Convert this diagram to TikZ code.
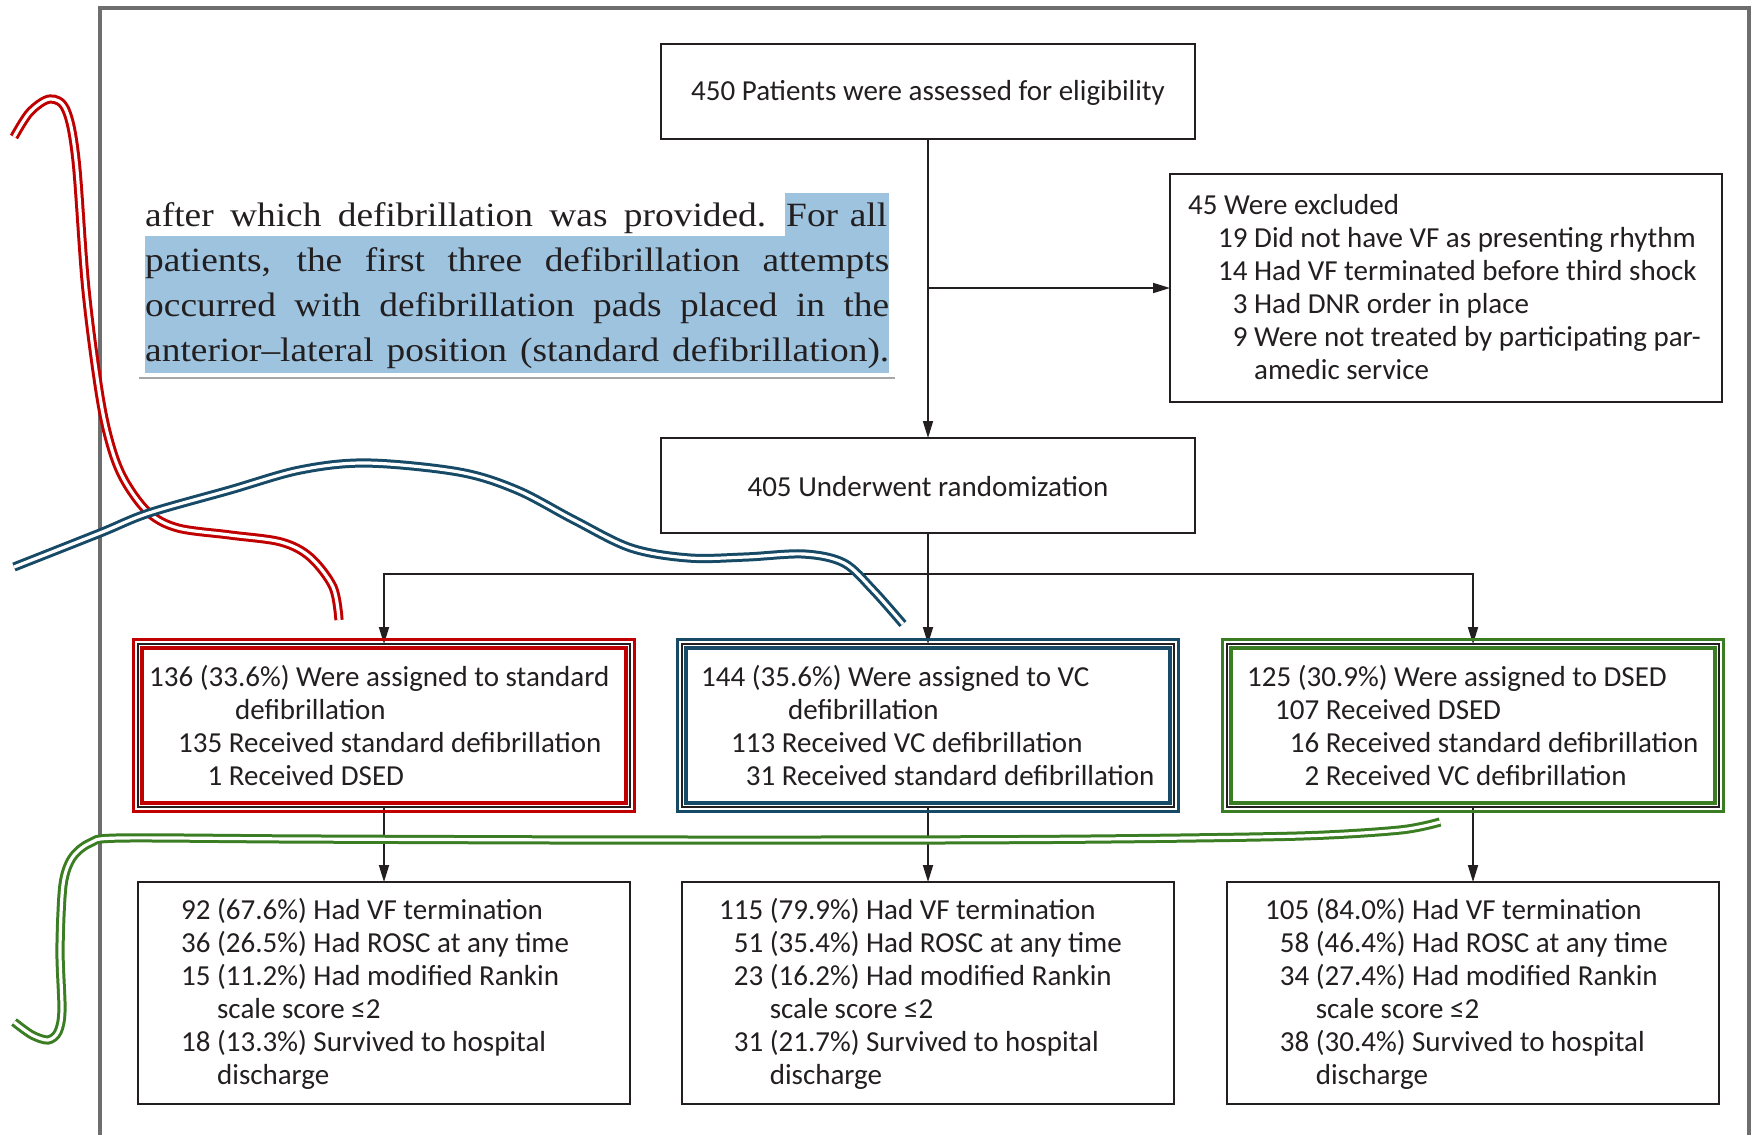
\documentclass[tikz,border=0pt]{standalone}
\usepackage{fontspec}
\setmainfont{Carlito}
\newfontfamily\paperfont[FakeStretch=1.1]{Liberation Serif}
\usetikzlibrary{arrows.meta}
\definecolor{ink}{HTML}{231F20}
\definecolor{redc}{HTML}{C00000}
\definecolor{bluec}{HTML}{164A66}
\definecolor{greenc}{HTML}{3A7D22}
\definecolor{hl}{HTML}{9DC3DF}
\definecolor{framec}{HTML}{6E6E6E}
\tikzset{
  box/.style={draw=ink, line width=2pt, outer sep=0pt, inner sep=0pt, rectangle},
  txt/.style={anchor=west, inner sep=0pt, text=ink, font=\fontsize{29}{33}\selectfont},
  ctxt/.style={inner sep=0pt, text=ink, font=\fontsize{29}{33}\selectfont},
  ptxt/.style={anchor=base west, inner sep=0pt, text=ink, font=\paperfont\fontsize{34}{45}\selectfont},
  conn/.style={draw=ink, line width=1.8pt, -{Triangle[length=17pt,width=10pt]}},
  outerframe/.style={line width=3pt},
  innerframe/.style={line width=4.5pt},
  curve/.style={double=white, line width=3pt, double distance=3.2pt},
}
\begin{document}
\begin{tikzpicture}[x=1pt,y=-1pt]
\fill[white] (0,0) rectangle (1760,1135);
\useasboundingbox (0,0) rectangle (1760,1135);

% outer gray frame
\draw[framec, line width=3.5pt] (100,1135) -- (100,8) -- (1749,8) -- (1749,1135);

% quoted paper text
\fill[hl] (785,193) rectangle (889,236);
\fill[hl] (145,236) rectangle (889,373);
\draw[gray!70, line width=1.5pt] (139,378) -- (895,378);
\node[ptxt] (p1a) at (145,226) {\makebox[621pt][s]{after which defibrillation was provided.}};
\node[ptxt] (p1b) at (786,226) {\makebox[101pt][s]{For all}};
\node[ptxt] (p2) at (145,271) {\makebox[744pt][s]{patients, the first three defibrillation attempts}};
\node[ptxt] (p3) at (145,316) {\makebox[744pt][s]{occurred with defibrillation pads placed in the}};
\node[ptxt] (p4) at (145,361) {\makebox[744pt][s]{anterior–lateral position (standard defibrillation).}};

% boxes
\node[box, minimum width=534pt, minimum height=95pt] (top) at (928,91.5) {};
\node[ctxt] (toptxt) at (928,92.5) {450 Patients were assessed for eligibility};

\node[box, minimum width=552pt, minimum height=228pt] (excl) at (1446,288) {};
\node[txt] (excltxt) at (1188,290.5) {\begin{tabular}{@{}r@{\ }l@{}}
\multicolumn{2}{@{}l@{}}{45 Were excluded}\\
\hspace*{30pt}19 & Did not have VF as presenting rhythm\\
14 & Had VF terminated before third shock\\
3 & Had DNR order in place\\
9 & Were not treated by participating par-\\
 & amedic service
\end{tabular}};

\node[box, minimum width=534pt, minimum height=95pt] (rand) at (928,485.5) {};
\node[ctxt] (randtxt) at (928,486.5) {405 Underwent randomization};

\node[box, minimum width=492pt, minimum height=163pt] (r2a) at (384,725.5) {};
\node[box, minimum width=492pt, minimum height=163pt] (r2b) at (928,725.5) {};
\node[box, minimum width=492pt, minimum height=163pt] (r2c) at (1473,725.5) {};

\node[txt] (r2atxt) at (149,729.5) {\begin{tabular}{@{}r@{\ }l@{}}
\multicolumn{2}{@{}l@{}}{136 (33.6\%) Were assigned to standard}\\
\multicolumn{2}{@{}l@{}}{\hspace*{86pt}defibrillation}\\
\hspace*{29pt}135 & Received standard defibrillation\\
1 & Received DSED
\end{tabular}};
\node[txt] (r2btxt) at (701,729.5) {\begin{tabular}{@{}r@{\ }l@{}}
\multicolumn{2}{@{}l@{}}{144 (35.6\%) Were assigned to VC}\\
\multicolumn{2}{@{}l@{}}{\hspace*{87pt}defibrillation}\\
\hspace*{30pt}113 & Received VC defibrillation\\
31 & Received standard defibrillation
\end{tabular}};
\node[txt] (r2ctxt) at (1247,729.5) {\begin{tabular}{@{}r@{\ }l@{}}
\multicolumn{2}{@{}l@{}}{125 (30.9\%) Were assigned to DSED}\\
\hspace*{28pt}107 & Received DSED\\
16 & Received standard defibrillation\\
2 & Received VC defibrillation
\end{tabular}};

\node[box, minimum width=492pt, minimum height=222pt] (r3a) at (384,993) {};
\node[box, minimum width=492pt, minimum height=222pt] (r3b) at (928,993) {};
\node[box, minimum width=492pt, minimum height=222pt] (r3c) at (1473,993) {};

\node[txt] (r3atxt) at (181,995.5) {\begin{tabular}{@{}r@{\ }l@{}}
92 & (67.6\%) Had VF termination\\
36 & (26.5\%) Had ROSC at any time\\
15 & (11.2\%) Had modified Rankin\\
 & scale score ≤2\\
18 & (13.3\%) Survived to hospital\\
 & discharge
\end{tabular}};
\node[txt] (r3btxt) at (719,995.5) {\begin{tabular}{@{}r@{\ }l@{}}
115 & (79.9\%) Had VF termination\\
51 & (35.4\%) Had ROSC at any time\\
23 & (16.2\%) Had modified Rankin\\
 & scale score ≤2\\
31 & (21.7\%) Survived to hospital\\
 & discharge
\end{tabular}};
\node[txt] (r3ctxt) at (1265,995.5) {\begin{tabular}{@{}r@{\ }l@{}}
105 & (84.0\%) Had VF termination\\
58 & (46.4\%) Had ROSC at any time\\
34 & (27.4\%) Had modified Rankin\\
 & scale score ≤2\\
38 & (30.4\%) Survived to hospital\\
 & discharge
\end{tabular}};

% connectors
\draw[conn] (top.south) -- (rand.north);
\coordinate (ex) at (top.south |- excl.west);
\draw[conn] (ex) -- (excl.west);
\coordinate (br) at (928,574);
\draw[conn] (rand.south) -- (r2b.north);
\draw[conn] (br) -| (r2a.north);
\draw[conn] (br) -| (r2c.north);
\draw[conn] (r2a.south) -- (r3a.north);
\draw[conn] (r2b.south) -- (r3b.north);
\draw[conn] (r2c.south) -- (r3c.north);

% coloured double frames
\foreach \n/\c in {r2a/redc, r2b/bluec, r2c/greenc} {
  \draw[\c, outerframe] ([shift={(-4.5,-4.5)}]\n.north west) rectangle ([shift={(4.5,4.5)}]\n.south east);
  \draw[\c, innerframe] ([shift={(3.8,3.8)}]\n.north west) rectangle ([shift={(-3.8,-3.8)}]\n.south east);
}

% hand-drawn double curves
\draw[redc, curve] plot[smooth, tension=0.55] coordinates {(14,137) (30,112) (50,99) (66,110) (76,160) (86,290) (100,397) (112,450) (126,483) (149,513) (178,528) (230,535) (281,542) (310,557) (333,587) (339,620)};
\draw[bluec, curve] plot[smooth, tension=0.55] coordinates {(14,567) (100,533) (149,513) (230,490) (300,470) (367,463) (459,472) (517,490) (574,520) (631,548) (689,558) (746,557) (804,554) (844,563) (873,590) (903,624)};
\draw[greenc, curve] plot[smooth, tension=0.5] coordinates {(1440,822) (1400,830) (1300,836) (1100,839) (900,840) (600,840) (300,839) (120,838) (90,843) (72,858) (63,885) (60,950) (62,1010) (58,1032) (48,1040) (32,1035) (14,1022)};
\end{tikzpicture}
\end{document}
